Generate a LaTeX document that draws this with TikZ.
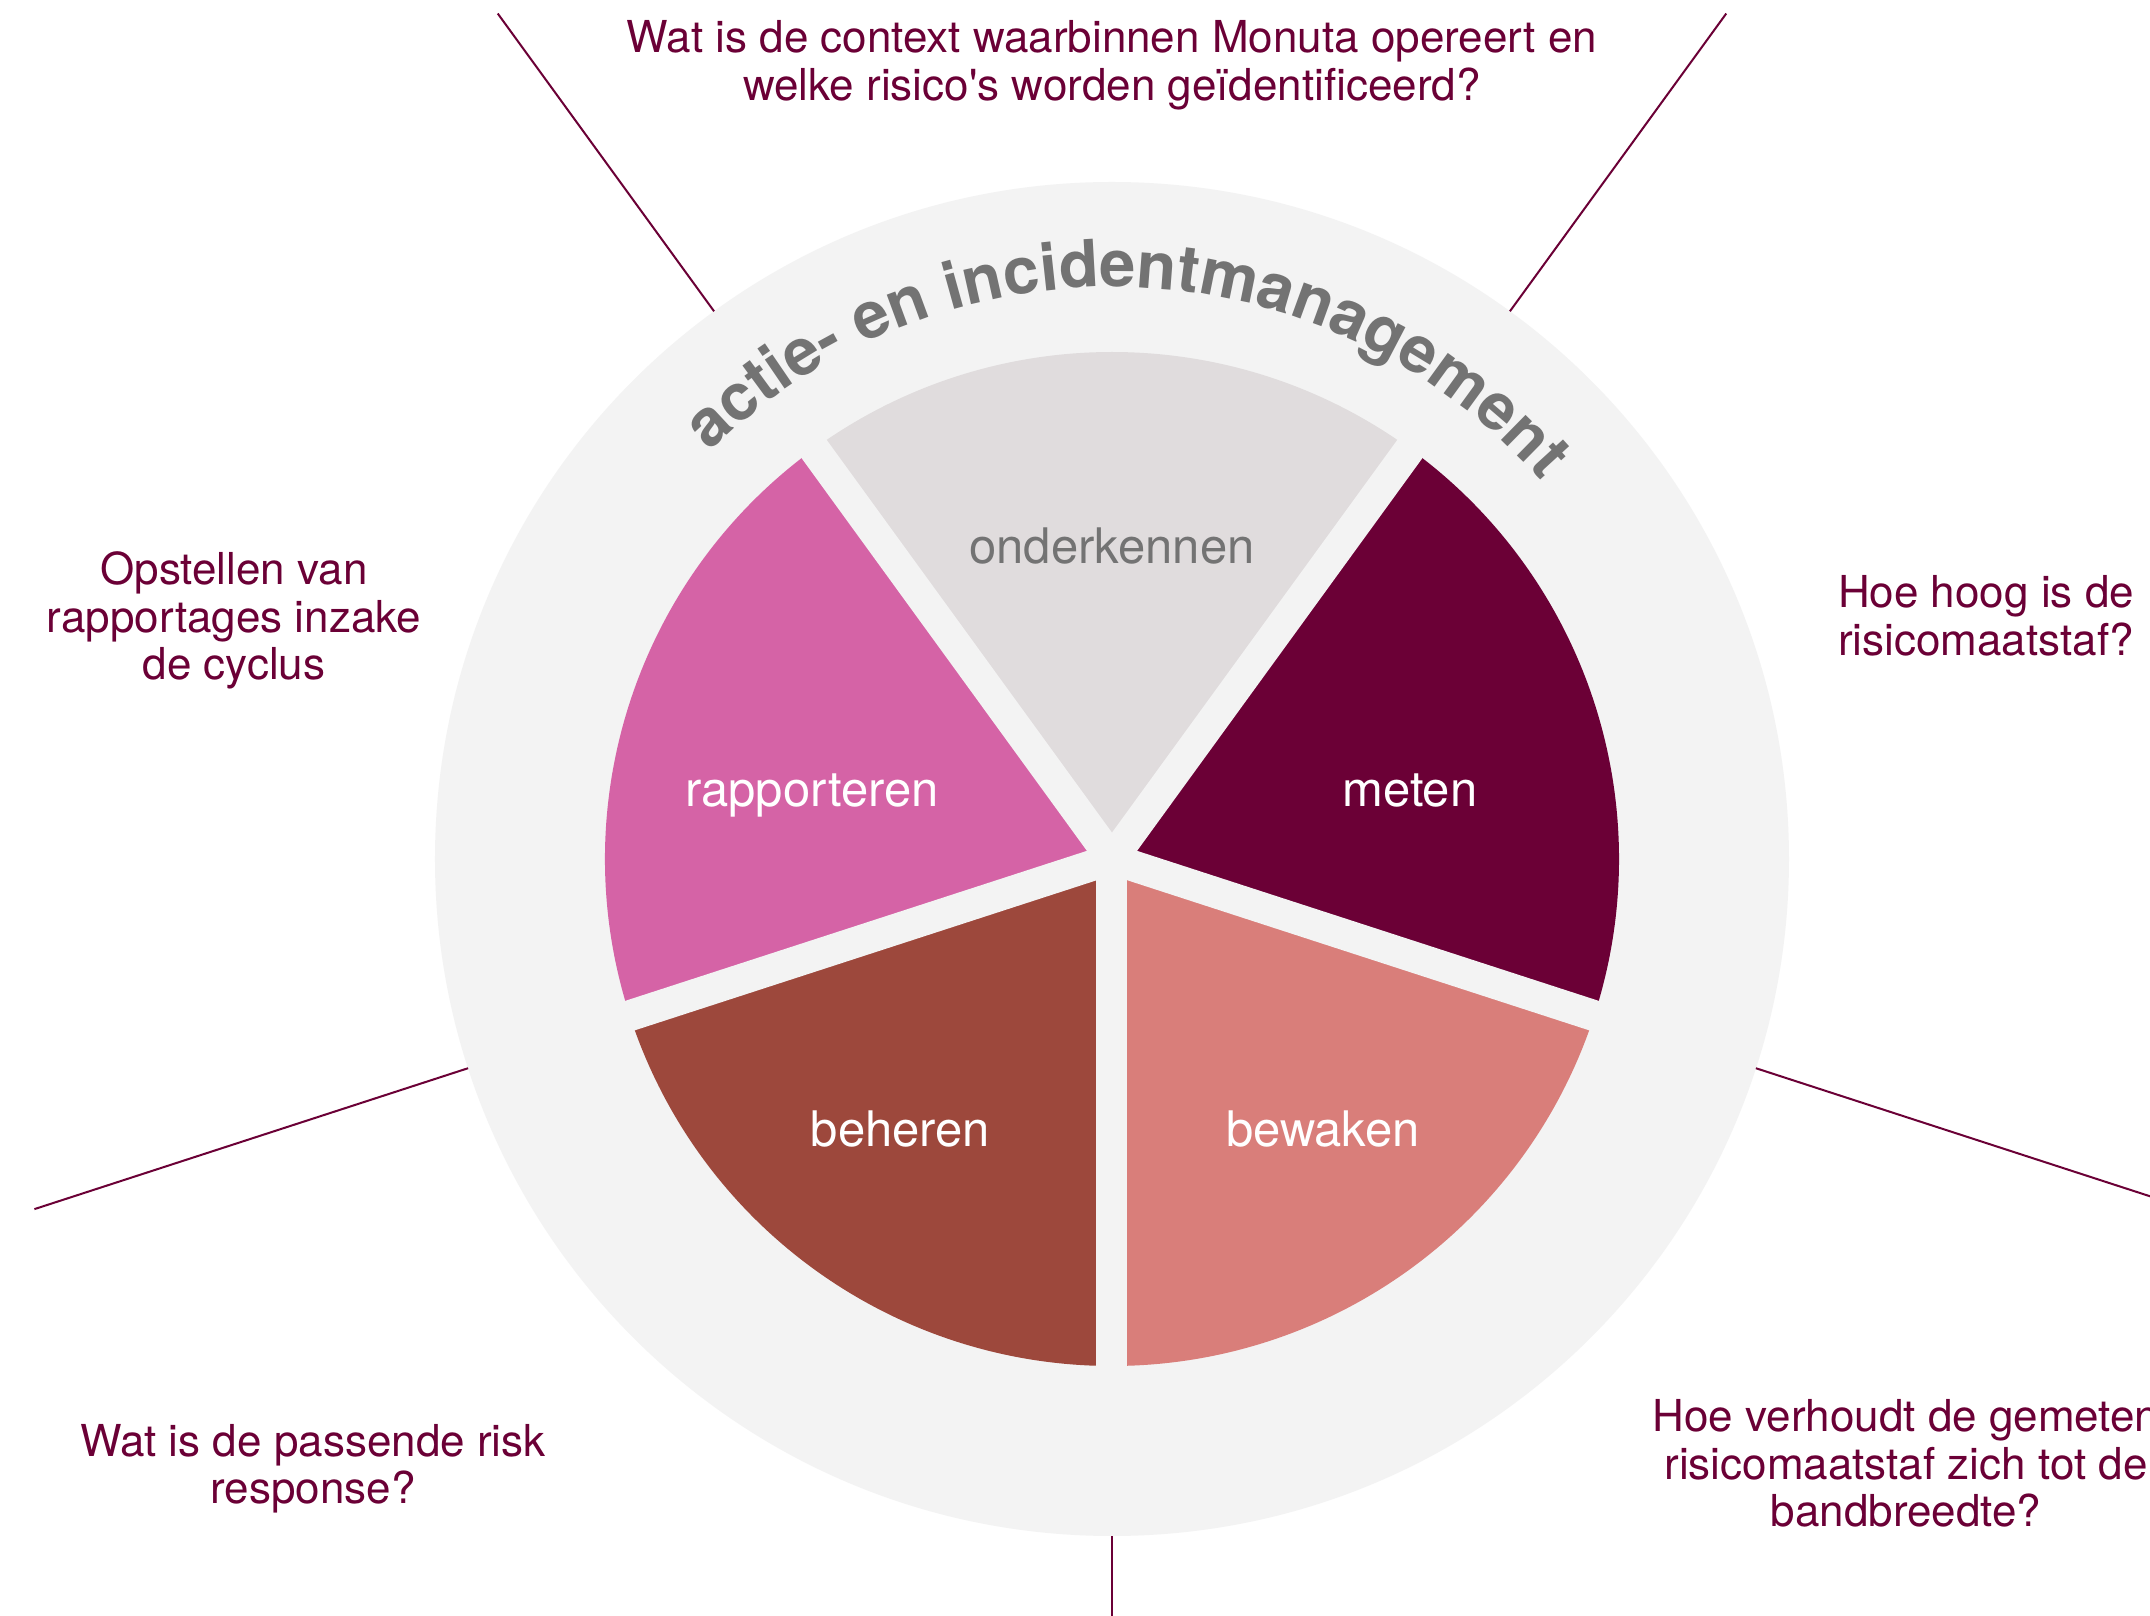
\documentclass[tikz,border=0pt]{standalone}
\usepackage{fontspec}
\setmainfont{TeX Gyre Heros}
\usetikzlibrary{decorations.text}
\definecolor{ringgray}{HTML}{F3F3F3}
\definecolor{cOnder}{HTML}{E0DCDD}
\definecolor{cMeten}{HTML}{6B0036}
\definecolor{cBewaken}{HTML}{D97E7A}
\definecolor{cBeheren}{HTML}{9D483C}
\definecolor{cRapport}{HTML}{D563A6}
\definecolor{grtext}{HTML}{737373}
\definecolor{maroon}{HTML}{6B0036}
\tikzset{
  qtext/.style={text=maroon, font=\fontsize{44}{47.5}\selectfont, align=center, anchor=base, inner sep=0pt},
  ltext/.style={font=\fontsize{49}{55}\selectfont, anchor=base, inner sep=0pt},
  conn/.style={draw=maroon, line width=2pt},
  gapline/.style={draw=ringgray, line width=31pt, line cap=round}
}
\begin{document}
\begin{tikzpicture}[x=1pt,y=1pt]
\useasboundingbox (-1112,-757) rectangle (1038,859);
\clip (-1112,-757) rectangle (1038,859);
\fill[white] (-1112,-757) rectangle (1038,859);
\coordinate (c) at (0,0);
% ring
\fill[ringgray] (c) circle[radius=677];
% sectors
\fill[cOnder] (c) -- (54:507) arc[start angle=54, end angle=126, radius=507] -- cycle;
\fill[cMeten] (c) -- (-18:507) arc[start angle=-18, end angle=54, radius=507] -- cycle;
\fill[cBewaken] (c) -- (-90:507) arc[start angle=-90, end angle=-18, radius=507] -- cycle;
\fill[cBeheren] (c) -- (198:507) arc[start angle=198, end angle=270, radius=507] -- cycle;
\fill[cRapport] (c) -- (126:507) arc[start angle=126, end angle=198, radius=507] -- cycle;
% gaps
\foreach \a in {54,126,198,270,342} {
  \draw[gapline] (c) -- (\a:530);
}
% radial connectors
\coordinate (l1a) at (126:677); \coordinate (l1b) at (126:1045);
\coordinate (l2a) at (54:677);  \coordinate (l2b) at (54:1045);
\coordinate (l3a) at (198:677); \coordinate (l3b) at (198:1133);
\coordinate (l4a) at (342:677); \coordinate (l4b) at (342:1133);
\coordinate (l5a) at (270:677); \coordinate (l5b) at (270:800);
\draw[conn] (l1a) -- (l1b);
\draw[conn] (l2a) -- (l2b);
\draw[conn] (l3a) -- (l3b);
\draw[conn] (l4a) -- (l4b);
\draw[conn] (l5a) -- (l5b);
% sector labels
\node[ltext, text=grtext] (onder) at (0,295) {onderkennen};
\node[ltext, text=white] (rapp) at (-300,52.3) {rapporteren};
\node[ltext, text=white] (meten) at (298,52.3) {meten};
\node[ltext, text=white] (beh) at (-211.5,-287.7) {beheren};
\node[ltext, text=white] (bew) at (211,-287.7) {bewaken};
% questions (anchor base = baseline of last line)
\node[qtext] (qtop) at (0,758.5) {Wat is de context waarbinnen Monuta opereert en\\welke risico\textquotesingle s worden geïdentificeerd?};
\node[qtext] (qleft) at (-878,179) {Opstellen van\\rapportages inzake\\de cyclus};
\node[qtext] (qright) at (874,203.5) {Hoe hoog is de\\risicomaatstaf?};
\node[qtext] (qbr) at (794,-667.7) {Hoe verhoudt de gemeten\\risicomaatstaf zich tot de\\bandbreedte?};
\node[qtext] (qbl) at (-799,-644.5) {Wat is de passende risk\\response?};
% curved title
\path[decorate, decoration={text along path, text align=center, text color=grtext,
  text={|\fontsize{65}{65}\selectfont\bfseries|actie- en incidentmanagement}}]
  (150:572) arc[start angle=150, end angle=26, radius=572];
\end{tikzpicture}
\end{document}
